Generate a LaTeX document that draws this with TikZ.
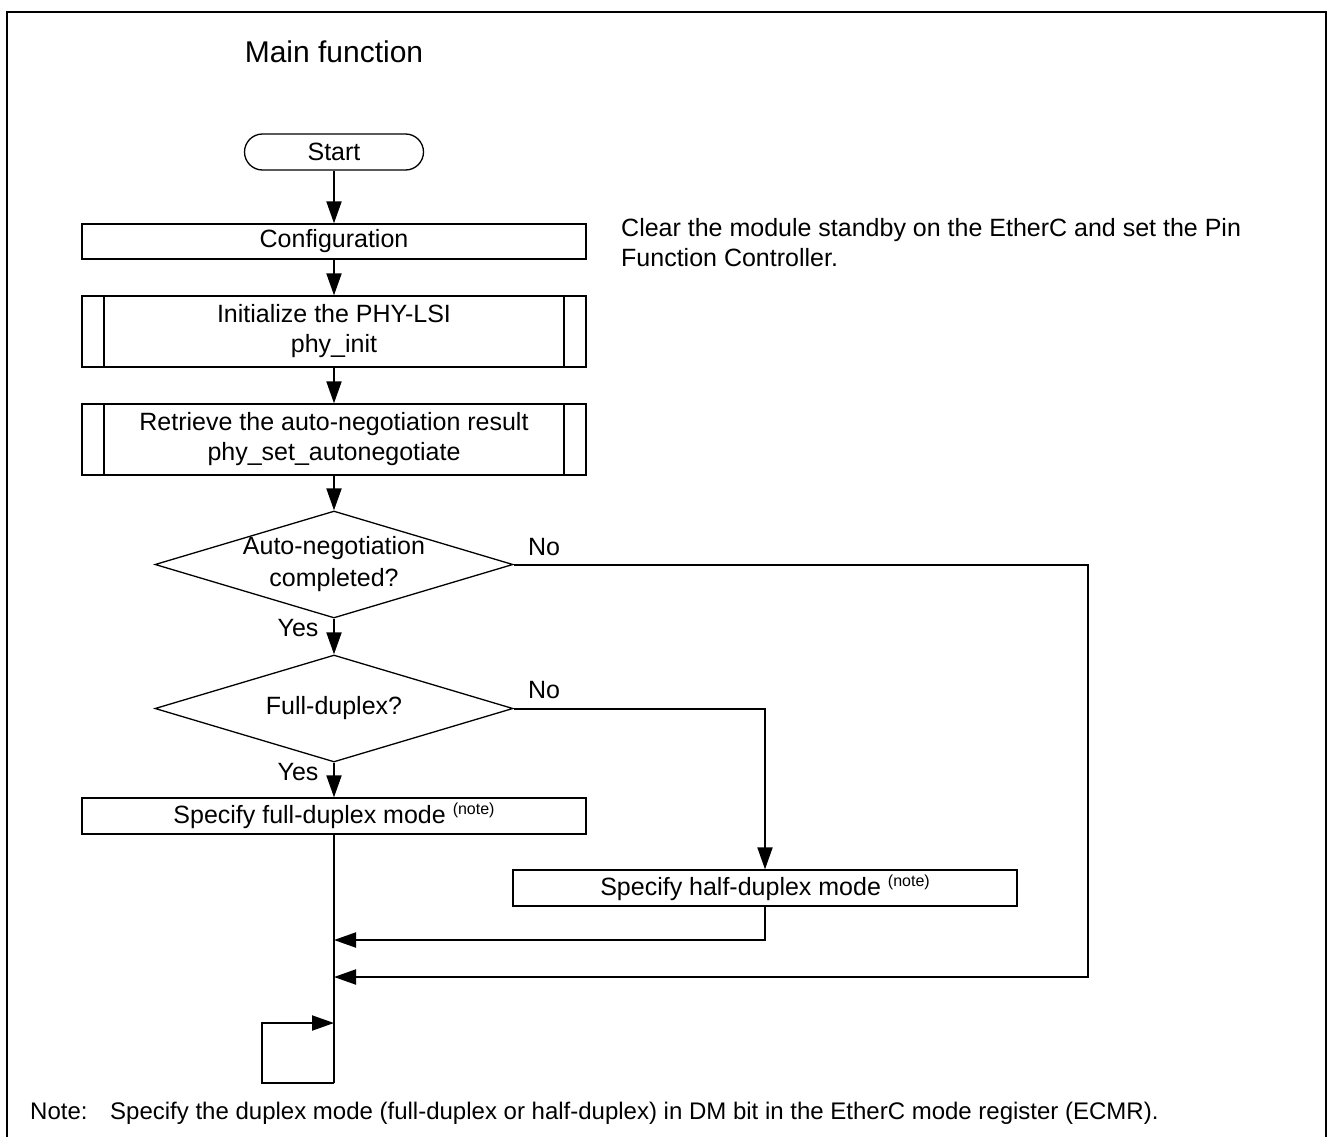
\documentclass[tikz,border=0pt]{standalone}
\usepackage{fontspec}
\setmainfont{Liberation Sans}
\usetikzlibrary{shapes.geometric,arrows.meta}
\begin{document}
\begin{tikzpicture}[x=1pt,y=-1pt,
  font=\fontsize{25}{30}\selectfont,
  box/.style={draw, line width=1.3pt, rectangle, minimum width=504pt, minimum height=35pt, inner sep=0pt, align=center},
  subbox/.style={box, minimum height=71pt,
    path picture={
      \draw[line width=1.3pt] ([xshift=22pt]path picture bounding box.north west) -- ([xshift=22pt]path picture bounding box.south west);
      \draw[line width=1.3pt] ([xshift=-22pt]path picture bounding box.north east) -- ([xshift=-22pt]path picture bounding box.south east);}},
  term/.style={draw, line width=1.3pt, rounded corners=18pt, minimum width=179pt, minimum height=36pt, inner sep=0pt},
  decision/.style={draw, diamond, line width=1.3pt, minimum width=358pt, minimum height=107pt, inner sep=0pt},
  txt/.style={inner sep=0pt, align=center},
  flow/.style={line width=2pt, -{Triangle[length=22pt,width=15pt]}},
  conn/.style={line width=2pt},
  frame/.style={line width=2.4pt}]
\useasboundingbox (0,0) rectangle (1330,1137);
% frame
\coordinate (fbl) at (7,1140);
\coordinate (ftl) at (7,12);
\coordinate (ftr) at (1326,12);
\coordinate (fbr) at (1326,1140);
\draw[frame] (fbl) -- (ftl) -- (ftr) -- (fbr);

\node[txt, font=\fontsize{30}{36}\selectfont] (title) at (334,52) {Main function};

\node[term] (start) at (334,152) {Start};
\node[box] (conf) at (334,241.5) {Configuration};
\node[subbox] (init) at (334,331.5) {Initialize the PHY-LSI\\phy\_init};
\node[subbox] (retr) at (334,439.5) {Retrieve the auto-negotiation result\\phy\_set\_autonegotiate};
\node[decision] (d1) at (334,564.5) {};
\node[txt, font=\fontsize{25}{32}\selectfont] (d1t) at (334,564) {Auto-negotiation\\completed?};
\node[decision] (d2) at (334,708.5) {};
\node[txt] (d2t) at (334,708) {Full-duplex?};
\node[box, minimum height=36pt] (full) at (334,816) {Specify full-duplex mode \raisebox{9pt}{\fontsize{16}{16}\selectfont (note)}};
\node[box, minimum height=36pt] (half) at (765,888) {Specify half-duplex mode \raisebox{9pt}{\fontsize{16}{16}\selectfont (note)}};

\node[txt, anchor=west, align=left] (clear) at (621,243) {Clear the module standby on the EtherC and set the Pin\\Function Controller.};

\node[txt] (yes1) at (298,628) {Yes};
\node[txt] (yes2) at (298,772) {Yes};
\node[txt] (no1) at (544,547) {No};
\node[txt] (no2) at (544,690) {No};

\coordinate (r1) at (1088,564.5);
\coordinate (r1b) at (1088,977);
\coordinate (m1) at (334,940);
\coordinate (m2) at (334,977);
\coordinate (lb) at (334,1083);
\coordinate (ll) at (262,1083);
\coordinate (lt) at (262,1023);
\coordinate (m3) at (334,1023);

\draw[flow] (start) -- (conf);
\draw[flow] (conf) -- (init);
\draw[flow] (init) -- (retr);
\draw[flow] (retr) -- (d1);
\draw[flow] (d1) -- (d2);
\draw[flow] (d2) -- (full);
\draw[flow] (d2.east) -| (half.north);
\draw[flow] (half.south) |- (m1);
\draw[flow] (d1.east) -- (r1) -- (r1b) -- (m2);
\draw[conn] (full.south) -- (lb);
\draw[flow] (lb) -- (ll) -- (lt) -- (m3);

\node[txt, anchor=base west, font=\fontsize{24}{28}\selectfont] (notel) at (30,1119) {Note:};
\node[txt, anchor=base west, font=\fontsize{24}{28}\selectfont] (notet) at (110,1119) {Specify the duplex mode (full-duplex or half-duplex) in DM bit in the EtherC mode register (ECMR).};
\end{tikzpicture}
\end{document}
